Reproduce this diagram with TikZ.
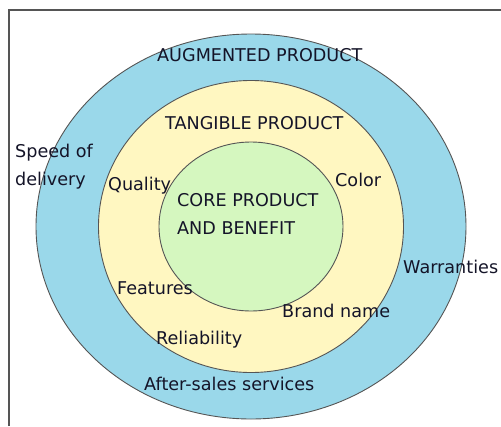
\documentclass[tikz,border=0pt]{standalone}
\usepackage{fontspec}
\setmainfont{DejaVu Sans}
\usepackage{xcolor}
\usepackage{tikz}

\definecolor{augblue}{RGB}{154,216,234}
\definecolor{tanyellow}{RGB}{255,247,193}
\definecolor{coregreen}{RGB}{213,247,191}
\definecolor{rimgray}{RGB}{85,85,85}
\definecolor{inkdark}{RGB}{20,20,40}

\begin{document}
\begin{tikzpicture}[x=1pt, y=-1pt,
        ring/.style={draw=rimgray, line width=0.9pt},
        lbl/.style={inner sep=0pt, anchor=base west, text=inkdark, align=left,
            font=\fontsize{17.6}{28}\selectfont}]
        \useasboundingbox (0,0) rectangle (501,426);
        \draw[rimgray, line width=1.2pt] (9,426) -- (9,10) -- (501,10);
        \coordinate (c) at (251,226.5);
        \draw[ring, fill=augblue] (c) ellipse [x radius=215pt, y radius=192.5pt];
        \draw[ring, fill=tanyellow] (c) ellipse [x radius=152.5pt, y radius=146pt];
        \draw[ring, fill=coregreen] (c) ellipse [x radius=92pt, y radius=84.5pt];
        \node[lbl] (1) at (157,61) {AUGMENTED PRODUCT};
        \node[lbl] (2) at (165,129) {TANGIBLE PRODUCT};
        \node[lbl] (3) at (177,234) {CORE PRODUCT\\AND BENEFIT};
        \node[lbl] (4) at (15,185) {Speed of\\delivery};
        \node[lbl] (5) at (108,190) {Quality};
        \node[lbl] (6) at (335,186) {Color};
        \node[lbl] (7) at (117,294) {Features};
        \node[lbl] (8) at (282,317) {Brand name};
        \node[lbl] (9) at (156,344) {Reliability};
        \node[lbl] (10) at (403,273) {Warranties};
        \node[lbl] (11) at (144,390) {After-sales services};
    \end{tikzpicture}
\end{document}
